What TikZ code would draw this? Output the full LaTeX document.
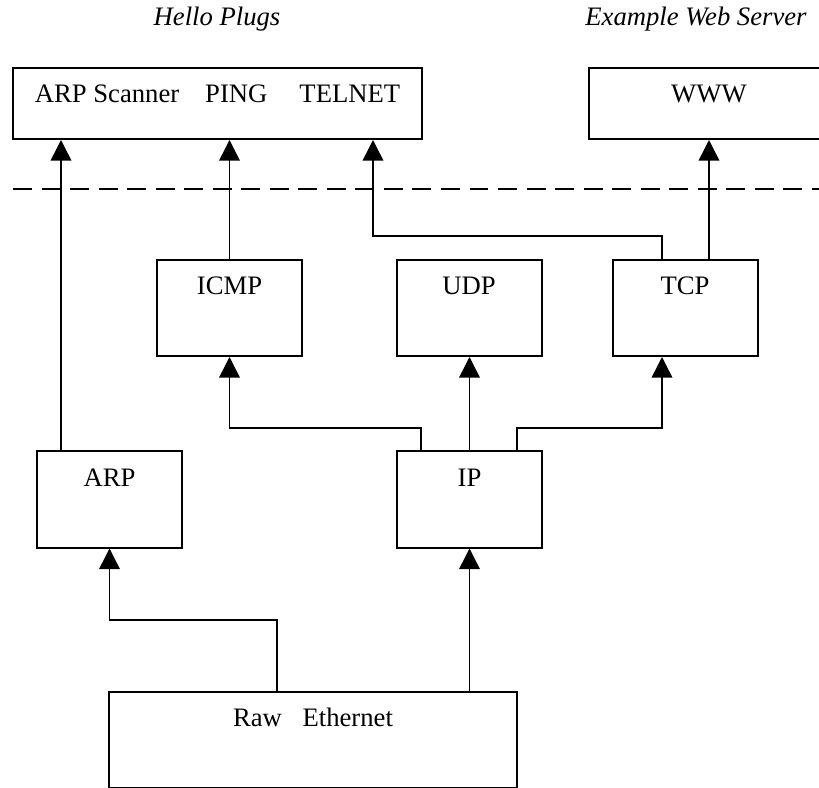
\documentclass[tikz,border=0pt]{standalone}
\usepackage{fontspec}
\setmainfont{Liberation Serif}
\usetikzlibrary{arrows.meta}
\begin{document}
\begin{tikzpicture}[x=0.75pt, y=-0.75pt,
  box/.style={draw, line width=1.5pt, minimum width=108.75pt, minimum height=72pt, inner sep=0pt},
  topbox/.style={box, minimum height=53.25pt},
  txt/.style={font=\fontsize{20}{24}\selectfont, anchor=base, inner sep=0pt},
  title/.style={txt, font=\fontsize{20}{24}\selectfont\itshape},
  conn/.style={line width=1.1pt, -{Triangle[length=15.5pt, width=15.5pt]}},
  sepline/.style={line width=1.4pt, dash pattern=on 14.2pt off 7.2pt}]

\useasboundingbox (0,0) rectangle (819,788);
\clip (0,0) rectangle (819,788);

% group titles
\node[title] (hello) at (217,26) {Hello Plugs};
\node[title] (web) at (696,26) {Example Web Server};

% application layer
\node[topbox, minimum width=306.75pt] (apps) at (217.5,103.5) {};
\node[topbox, minimum width=180pt] (www) at (709,103.5) {};

% separator between applications and the stack
\draw[sepline] (13,189) -- (830,189);

% protocol stack
\node[box] (icmp) at (229.5,308) {};
\node[box] (udp) at (469,308) {};
\node[box] (tcp) at (685,308) {};
\node[box] (arp) at (109.5,499.5) {};
\node[box] (ip) at (469.5,499.5) {};
\node[box, minimum width=306pt] (raw) at (313,739.5) {};

% box captions
\node[txt] (apps-t) at ([yshift=-26.8pt]apps.north) {ARP Scanner\hspace{19.5pt}PING\hspace{24pt}TELNET};
\node[txt] (www-t) at ([yshift=-26.3pt]www.north) {WWW};
\node[txt] (icmp-t) at ([yshift=-26.8pt]icmp.north) {ICMP};
\node[txt] (udp-t) at ([yshift=-26.8pt]udp.north) {UDP};
\node[txt] (tcp-t) at ([yshift=-26.8pt]tcp.north) {TCP};
\node[txt] (arp-t) at ([yshift=-26.8pt]arp.north) {ARP};
\node[txt] (ip-t) at ([yshift=-26.8pt]ip.north) {IP};
\node[txt] (raw-t) at ([yshift=-26.8pt]raw.north) {Raw\hspace{15.5pt}Ethernet};

% connections
\draw[conn] (61,0 |- arp.north) -- (61,0 |- apps.south);
\draw[conn] (icmp.north) -- (icmp.north |- apps.south);
\draw[conn] (662,0 |- tcp.north) |- (373,236) -- (373,0 |- apps.south);
\draw[conn] (709,0 |- tcp.north) -- (www.south);
\draw[conn] (421,0 |- ip.north) |- (229.5,428) -- (icmp.south);
\draw[conn] (ip.north) -- (ip.north |- udp.south);
\draw[conn] (517,0 |- ip.north) |- (662,428) -- (662,0 |- tcp.south);
\draw[conn] (277,0 |- raw.north) |- (109.5,620) -- (arp.south);
\draw[conn] (469.5,0 |- raw.north) -- (ip.south);
\end{tikzpicture}
\end{document}
